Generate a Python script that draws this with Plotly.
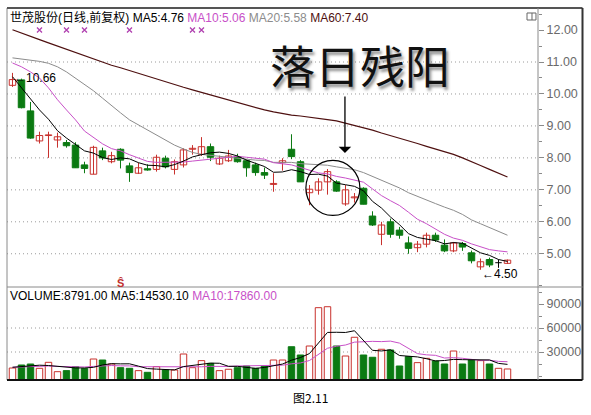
import plotly.graph_objects as go

# ---------------- data ----------------
opens  = [10.27, 10.44, 9.47, 8.53, 8.70, 8.56, 8.48, 8.40, 7.78, 7.49,
          8.22, 7.88, 8.27, 7.75, 7.52, 7.66, 7.64, 7.99, 7.64, 7.78,
          8.27, 8.11, 8.35, 7.81, 7.91, 8.04, 7.91, 7.78, 7.54, 7.17,
          7.85, 8.27, 7.88, 6.91, 6.99, 7.25, 7.25, 6.56, 6.75, 7.05,
          6.18, 5.61, 6.00, 5.74, 5.34, 5.19, 5.30, 5.58, 5.27, 5.09,
          5.32, 5.03, 4.59, 4.82, 4.72, 4.70]
highs  = [10.66, 10.48, 9.75, 8.82, 8.82, 8.79, 8.56, 8.49, 7.88, 8.38,
          8.32, 8.19, 8.30, 7.85, 7.85, 7.80, 8.10, 8.07, 7.95, 8.30,
          8.40, 8.65, 8.45, 8.07, 8.25, 8.13, 7.95, 7.85, 7.70, 7.52,
          7.99, 8.74, 7.93, 7.15, 7.36, 7.65, 7.30, 7.15, 6.90, 7.08,
          6.33, 6.00, 6.10, 5.84, 5.54, 5.40, 5.66, 5.66, 5.45, 5.37,
          5.37, 5.10, 4.85, 4.88, 4.82, 4.82]
lows   = [10.22, 9.55, 8.60, 8.45, 8.00, 8.32, 8.32, 7.69, 7.52, 7.49,
          7.93, 7.83, 7.67, 7.25, 7.50, 7.60, 7.57, 7.67, 7.48, 7.70,
          8.10, 8.06, 7.90, 7.78, 7.87, 7.85, 7.41, 7.44, 7.34, 6.94,
          7.60, 7.96, 7.25, 6.52, 6.85, 6.85, 6.94, 6.50, 6.60, 6.55,
          5.87, 5.27, 5.50, 5.47, 5.00, 5.05, 5.20, 5.37, 5.05, 5.05,
          5.09, 4.70, 4.50, 4.58, 4.56, 4.68]
closes = [10.45, 9.57, 8.62, 8.70, 8.72, 8.66, 8.38, 7.69, 7.67, 8.33,
          8.00, 8.07, 7.93, 7.54, 7.69, 7.62, 8.02, 7.72, 7.88, 8.25,
          8.30, 8.35, 8.02, 7.99, 8.06, 7.88, 7.69, 7.54, 7.46, 7.20,
          7.91, 8.04, 7.25, 7.02, 7.25, 7.57, 6.96, 7.00, 6.78, 6.55,
          5.90, 5.90, 5.61, 5.58, 5.17, 5.30, 5.58, 5.43, 5.09, 5.34,
          5.21, 4.78, 4.75, 4.65, 4.72, 4.80]

ma5  = [10.54, 10.20, 9.85, 9.50, 9.21, 8.85, 8.62, 8.43, 8.22, 8.15,
        8.01, 7.95, 8.00, 7.97, 7.85, 7.77, 7.76, 7.72, 7.79, 7.90,
        8.03, 8.10, 8.16, 8.18, 8.14, 8.06, 7.93, 7.83, 7.73, 7.55,
        7.56, 7.63, 7.57, 7.48, 7.49, 7.43, 7.21, 7.16, 7.11, 6.97,
        6.64, 6.43, 6.15, 5.91, 5.63, 5.51, 5.45, 5.41, 5.31, 5.35,
        5.33, 5.17, 5.03, 4.95, 4.82, 4.76]
ma10 = [10.97, 10.85, 10.69, 10.50, 10.19, 9.82, 9.50, 9.19, 8.84, 8.65,
        8.44, 8.29, 8.22, 8.10, 8.00, 7.89, 7.86, 7.86, 7.88, 7.87,
        7.90, 7.93, 7.94, 7.99, 8.02, 8.05, 8.02, 8.00, 7.96, 7.85,
        7.81, 7.78, 7.70, 7.61, 7.53, 7.50, 7.42, 7.37, 7.30, 7.24,
        7.03, 6.82, 6.66, 6.51, 6.30, 6.08, 5.94, 5.78, 5.61, 5.49,
        5.42, 5.31, 5.23, 5.13, 5.09, 5.06]
ma20 = [11.13, 11.10, 11.05, 11.02, 10.96, 10.85, 10.69, 10.50, 10.29, 10.10,
        9.87, 9.63, 9.41, 9.19, 9.03, 8.87, 8.72, 8.56, 8.40, 8.28,
        8.17, 8.11, 8.08, 8.04, 8.01, 7.97, 7.94, 7.93, 7.92, 7.86,
        7.86, 7.86, 7.82, 7.80, 7.77, 7.77, 7.72, 7.68, 7.63, 7.54,
        7.42, 7.30, 7.18, 7.06, 6.91, 6.79, 6.68, 6.57, 6.46, 6.36,
        6.23, 6.06, 5.94, 5.82, 5.69, 5.58]
ma60 = [12.01, 11.90, 11.80, 11.70, 11.60, 11.50, 11.40, 11.30, 11.19, 11.08,
        10.98, 10.90, 10.82, 10.73, 10.65, 10.57, 10.47, 10.38, 10.30, 10.21,
        10.13, 10.05, 9.97, 9.89, 9.82, 9.74, 9.66, 9.58, 9.50, 9.44,
        9.38, 9.34, 9.31, 9.28, 9.25, 9.20, 9.16, 9.09, 9.03, 8.95,
        8.87, 8.78, 8.70, 8.62, 8.55, 8.45, 8.36, 8.28, 8.20, 8.11,
        8.00, 7.87, 7.76, 7.64, 7.51, 7.40]

volume = [10000, 13750, 15000, 9600, 17100, 5400, 6700, 11700, 9200, 21250,
          20000, 15000, 10400, 9600, 6700, 4600, 11700, 7500, 7500, 27500,
          10400, 19200, 15800, 6700, 8400, 10400, 12500, 9600, 12500, 20000,
          20000, 36600, 26250, 37500, 85400, 86600, 37500, 25000, 48400, 26250,
          23400, 33400, 32500, 12500, 24200, 16700, 22100, 18750, 15000, 31250,
          15000, 20000, 19200, 15000, 9600, 8791]
vol_ma5 = [10900, 12000, 13000, 13500, 13090, 12170, 10760, 10100, 10020, 10850,
           13770, 15430, 15170, 15250, 12340, 9260, 8600, 8020, 7600, 11760,
           12920, 14420, 16080, 15920, 12100, 12100, 10760, 9520, 10680, 13000,
           14920, 19740, 23070, 28070, 41150, 54470, 54650, 54400, 56580, 44750,
           32110, 31290, 32790, 25610, 25200, 23860, 21600, 18850, 19350, 20760,
           20420, 20000, 20090, 20090, 15760, 14530.10]
vol_ma10 = [10900, 11500, 12000, 12000, 12500, 12000, 11500, 11500, 11300, 11970,
            12970, 13095, 12635, 12635, 11595, 11515, 12015, 11595, 11425, 12050,
            11090, 11510, 12050, 11760, 11930, 12510, 12590, 12800, 13300, 12550,
            13510, 15250, 16295, 19375, 27075, 34695, 37195, 38735, 42325, 42950,
            43290, 42970, 43595, 41095, 34975, 27985, 26445, 25820, 22480, 22980,
            22140, 20800, 19470, 19720, 18260, 17860]

signal_idx = [3, 6, 8, 13, 20, 21]      # purple x marks along the top
s_mark_idx = 12                          # red "S" mark
price_ticks = [5, 6, 7, 8, 9, 10, 11, 12]
price_grid = [5, 6, 7, 8, 9, 10, 11]
vol_ticks = [30000, 60000, 90000]
vol_grid = [30000, 60000]
stock_name = "世茂股份(日线,前复权)"
title_big = "落日残阳"
caption = "图2.11"

# ---------------- styles ----------------
RED = "#C8302C"
GREEN = "#0B7A12"
BLACK = "#000000"
MA10C = "#C850C8"
MA20C = "#8C8C8C"
MA60C = "#4E1010"
GRID = "#9A9A9A"
FRAME = "#8A8A8A"
FONT = "Liberation Sans, Arial, Noto Sans CJK SC, sans-serif"
CJK = "Noto Sans CJK SC, sans-serif"
BODY_W = 0.72
VOL_FLOOR = -5000

n = len(closes)
xs = list(range(n))

fig = go.Figure()

# wicks
wick = {RED: ([], []), GREEN: ([], []), BLACK: ([], [])}
body_x, body_y, body_base, body_fill, body_line = [], [], [], [], []
for i in xs:
    o, h, l, c = opens[i], highs[i], lows[i], closes[i]
    col = RED if c > o else (GREEN if c < o else BLACK)
    wx, wy = wick[col]
    wx += [i, i, None]
    wy += [l, h, None]
    if c == o:
        wx += [i - BODY_W / 2, i + BODY_W / 2, None]
        wy += [o, o, None]
    else:
        body_x.append(i)
        body_base.append(min(o, c))
        body_y.append(abs(c - o))
        body_fill.append("white" if c > o else GREEN)
        body_line.append(col)

for col, (wx, wy) in wick.items():
    fig.add_trace(go.Scatter(x=wx, y=wy, mode="lines", line=dict(color=col, width=1),
                             hoverinfo="skip", showlegend=False, xaxis="x", yaxis="y"))

fig.add_trace(go.Bar(x=body_x, y=body_y, base=body_base, width=BODY_W,
                     marker=dict(color=body_fill, line=dict(color=body_line, width=1)),
                     showlegend=False, xaxis="x", yaxis="y"))

# price MAs
for arr, col, w in [(ma60, MA60C, 1.2), (ma20, MA20C, 1), (ma10, MA10C, 1), (ma5, BLACK, 1)]:
    fig.add_trace(go.Scatter(x=xs, y=arr, mode="lines", line=dict(color=col, width=w),
                             showlegend=False, xaxis="x", yaxis="y"))

# signal marks
fig.add_trace(go.Scatter(x=signal_idx, y=[12.0] * len(signal_idx), mode="markers",
                         marker=dict(symbol="x-thin", size=5, line=dict(color="#B040B0", width=1.3)),
                         showlegend=False, xaxis="x", yaxis="y"))

# volume bars
vol_fill, vol_line = [], []
for i in xs:
    up = closes[i] >= opens[i]
    vol_fill.append("white" if up else GREEN)
    vol_line.append(RED if up else GREEN)
fig.add_trace(go.Bar(x=xs, y=[v - VOL_FLOOR for v in volume], base=VOL_FLOOR, width=BODY_W,
                     marker=dict(color=vol_fill, line=dict(color=vol_line, width=1)),
                     showlegend=False, xaxis="x", yaxis="y2"))
fig.add_trace(go.Scatter(x=xs, y=vol_ma10, mode="lines", line=dict(color=MA10C, width=1),
                         showlegend=False, xaxis="x", yaxis="y2"))
fig.add_trace(go.Scatter(x=xs, y=vol_ma5, mode="lines", line=dict(color=BLACK, width=1),
                         showlegend=False, xaxis="x", yaxis="y2"))

# ---------------- layout ----------------
shapes = []
for g in price_grid:
    shapes.append(dict(type="line", xref="paper", yref="y", x0=0, x1=1, y0=g, y1=g,
                       line=dict(color=GRID, width=1, dash="1px,3px"), layer="below"))
for g in vol_grid:
    shapes.append(dict(type="line", xref="paper", yref="y2", x0=0, x1=1, y0=g, y1=g,
                       line=dict(color=GRID, width=1, dash="1px,3px"), layer="below"))

XR = 1 + 44.5 / 531.0  # right frame
frame = [
    (0, 0, 0, 1, FRAME, 1),          # left
    (0, 1, XR, 1, "#555555", 2),     # top
    (XR, 0, XR, 1, "#333333", 2),    # right
    (0, 0, XR, 0, "#111111", 2),     # bottom
    (0, 0.25, XR, 0.25, FRAME, 1),   # separator
    (1, 0, 1, 1, FRAME, 1),          # axis line
]
for x0, y0, x1, y1, c, w in frame:
    shapes.append(dict(type="line", xref="paper", yref="paper", x0=x0, y0=y0, x1=x1, y1=y1,
                       line=dict(color=c, width=w)))

# small window icon
shapes.append(dict(type="rect", xref="paper", yref="paper", x0=0.9793, x1=0.9962, y0=0.9677, y1=0.9866,
                   line=dict(color="#666666", width=1), fillcolor="white"))
shapes.append(dict(type="line", xref="paper", yref="paper", x0=0.9887, x1=0.9887, y0=0.9677, y1=0.9866,
                   line=dict(color="#666666", width=1)))

# circle around the pattern
shapes.append(dict(type="circle", xref="x", yref="y", x0=32.6, x1=38.6, y0=6.20, y1=7.92,
                   line=dict(color=BLACK, width=1.2)))

legend_price = (f"{stock_name} MA5:{ma5[-1]:.2f} "
                f"<span style='color:{MA10C}'>MA10:{ma10[-1]:.2f}</span> "
                f"<span style='color:{MA20C}'>MA20:{ma20[-1]:.2f}</span> "
                f"<span style='color:{MA60C}'>MA60:{ma60[-1]:.2f}</span>")
legend_vol = (f"VOLUME:{volume[-1]:.2f} MA5:{vol_ma5[-1]:.2f} "
              f"<span style='color:{MA10C}'>MA10:{vol_ma10[-1]:.2f}</span>")

hi_i = highs.index(max(highs))
lo_i = lows.index(min(lows))

annotations = [
    dict(xref="paper", yref="paper", x=0.002, y=0.9758, xanchor="left", yanchor="middle",
         text=legend_price, showarrow=False, font=dict(family=FONT, size=12, color=BLACK)),
    dict(xref="paper", yref="paper", x=0.002, y=0.2258, xanchor="left", yanchor="middle",
         text=legend_vol, showarrow=False, font=dict(family=FONT, size=12, color=BLACK)),
    dict(xref="x", yref="y", x=hi_i, y=max(highs), xanchor="left", yanchor="middle", yshift=-5,
         text=f"←{max(highs):.2f}", showarrow=False, font=dict(family=FONT, size=12, color=BLACK)),
    dict(xref="x", yref="y", x=lo_i, y=min(lows), xanchor="left", yanchor="middle", yshift=-4,
         text=f"←{min(lows):.2f}", showarrow=False, font=dict(family=FONT, size=12, color=BLACK)),
    dict(xref="paper", yref="paper", x=0.6648, y=0.8470, xanchor="center", yanchor="middle",
         text=title_big, showarrow=False,
         font=dict(family=CJK, size=45, color="#111111", shadow="2px 3px 3px rgba(0,0,0,0.45)")),
    dict(xref="x", yref="y", x=36.94, y=8.15, ax=0, ay=-58, axref="pixel", ayref="pixel",
         text="", showarrow=True, arrowhead=1, arrowsize=1.6, arrowwidth=1.3, arrowcolor=BLACK),
    dict(xref="x", yref="paper", x=s_mark_idx, y=0.262, xanchor="center", yanchor="middle",
         text="<b>Ŝ</b>", showarrow=False, font=dict(family=FONT, size=11, color="#C03030")),
    dict(xref="paper", yref="paper", x=0.5725, y=-0.0457, xanchor="center", yanchor="middle",
         text=caption, showarrow=False, font=dict(family=CJK, size=12, color=BLACK)),
]

fig.update_layout(
    width=591, height=415,
    margin=dict(l=7, r=53, t=8, b=35),
    paper_bgcolor="white", plot_bgcolor="white",
    showlegend=False, barmode="overlay",
    xaxis=dict(domain=[0, 1], range=[-0.61, 58.39], showgrid=False, zeroline=False,
               showticklabels=False, ticks="", showline=False, anchor="y2", fixedrange=True),
    yaxis=dict(domain=[0.25, 1], range=[3.96, 12.69], side="right", anchor="x",
               tickvals=price_ticks, tickformat=".2f", showgrid=False, zeroline=False,
               ticks="outside", ticklen=5, tickcolor=FRAME, showline=False,
               tickfont=dict(family=FONT, size=12.5, color="#6A6A6A"),
               minor=dict(dtick=0.5, tick0=0, ticks="outside", ticklen=3, tickcolor=FRAME, showgrid=False)),
    yaxis2=dict(domain=[0, 0.25], range=[VOL_FLOOR, 111250], side="right", anchor="x",
                tickvals=vol_ticks, tickformat="d", showgrid=False, zeroline=False,
                ticks="outside", ticklen=5, tickcolor=FRAME, showline=False,
                tickfont=dict(family=FONT, size=12.5, color="#6A6A6A"),
                minor=dict(dtick=15000, tick0=0, ticks="outside", ticklen=3, tickcolor=FRAME, showgrid=False)),
    shapes=shapes,
    annotations=annotations,
)

fig.write_html("out.html", config={"displayModeBar": False},
               post_script="document.body.style.margin='0';document.body.style.overflow='hidden';")
